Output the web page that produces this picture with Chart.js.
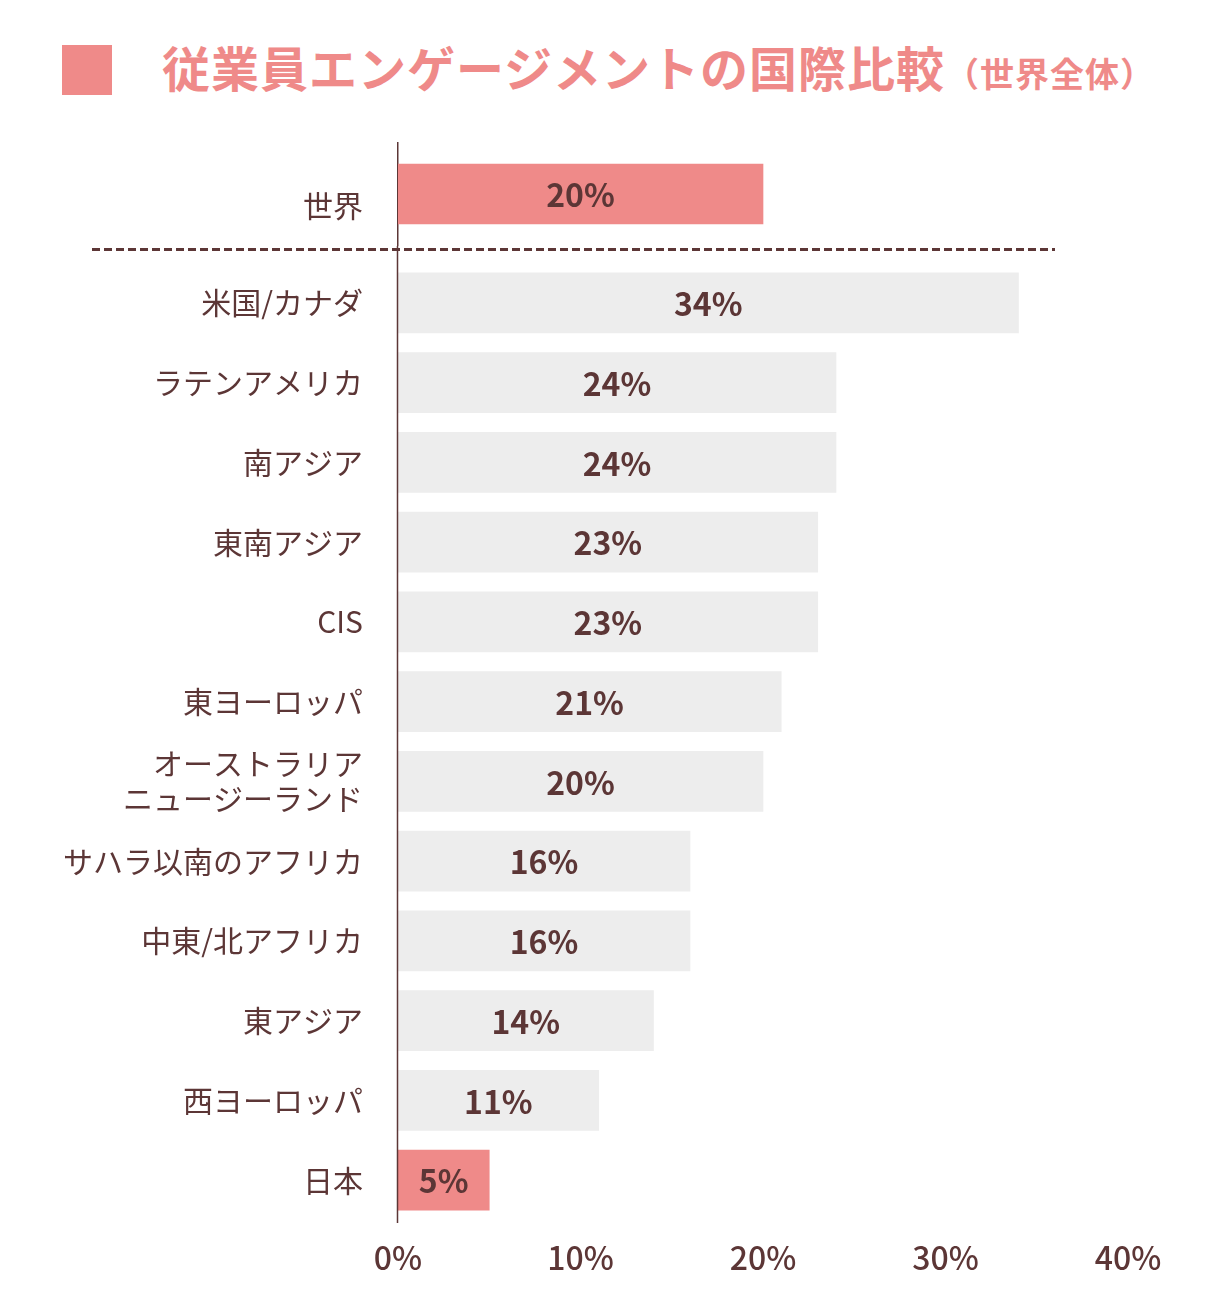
<!DOCTYPE html>
<html lang="ja">
<head>
<meta charset="utf-8">
<title>従業員エンゲージメントの国際比較</title>
<script src="https://cdn.jsdelivr.net/npm/chart.js@4.4.1/dist/chart.umd.min.js"></script>
<style>
    html, body {
        margin: 0;
        padding: 0;
        background: #ffffff;
    }
    #pagina {
        position: relative;
        width: 1220px;
        height: 1316px;
        overflow: hidden;
        font-family: "Noto Sans CJK JP", "Noto Sans", sans-serif;
    }
    #marca {
        position: absolute;
        left: 62px;
        top: 45px;
        width: 50px;
        height: 50px;
        background: #ef8a89;
    }
    #titulo {
        position: absolute;
        left: 162px;
        top: 42px;
        display: flex;
        align-items: baseline;
        color: #ef8a89;
        font-weight: bold;
        white-space: nowrap;
    }
    #titulo .principal {
        font-size: 48px;
        line-height: 48px;
        letter-spacing: 1px;
    }
    #titulo .sub {
        font-size: 34px;
        line-height: 48px;
        letter-spacing: 1px;
    }
    #cajaMundo {
        position: absolute;
        left: 0;
        top: 142px;
    }
    #cajaRegiones {
        position: absolute;
        left: 0;
        top: 246px;
    }
</style>
</head>
<body>
<div id="pagina">
    <div id="marca"></div>
    <div id="titulo"><span class="principal">従業員エンゲージメントの国際比較</span><span class="sub">（世界全体）</span></div>
    <div id="cajaMundo"><canvas id="graficaMundo" width="1220" height="104"></canvas></div>
    <div id="cajaRegiones"><canvas id="graficaRegiones" width="1220" height="1070"></canvas></div>
</div>
<script>
/* -----------------------------
   DATOS
----------------------------- */
const worldLabels = [["", "世界"]];
const worldValues = [20];

const regionLabels = [
    "米国/カナダ",
    "ラテンアメリカ",
    "南アジア",
    "東南アジア",
    "CIS",
    "東ヨーロッパ",
    ["オーストラリア", "ニュージーランド"],
    "サハラ以南のアフリカ",
    "中東/北アフリカ",
    "東アジア",
    "西ヨーロッパ",
    "日本"
];
const regionValues = [34, 24, 24, 23, 23, 21, 20, 16, 16, 14, 11, 5];
const highlighted = ["日本"];

const xTicks = [0, 10, 20, 30, 40];

/* -----------------------------
   ESTILO
----------------------------- */
const FUENTE = '"Noto Sans CJK JP", "Noto Sans", sans-serif';
const ROSA = "#ef8a89";
const GRIS = "#ededed";
const MARRON = "#5c3636";
const ANCHO_ETIQUETAS = 398;

const etiquetasBarras = {
    id: "etiquetasBarras",
    afterDatasetsDraw(chart) {
        const ctx = chart.ctx;
        const meta = chart.getDatasetMeta(0);
        const datos = chart.data.datasets[0].data;
        ctx.save();
        ctx.fillStyle = MARRON;
        ctx.font = `bold 32px ${FUENTE}`;
        ctx.textAlign = "center";
        ctx.textBaseline = "middle";
        meta.data.forEach((bar, i) => {
            const cx = (bar.x + bar.base) / 2;
            ctx.fillText(datos[i] + "%", cx, bar.y + 1);
        });
        ctx.restore();
    }
};

// linea del eje y separador punteado (solo en la grafica de regiones)
const ejeYSeparador = {
    id: "ejeYSeparador",
    afterDraw(chart) {
        const ctx = chart.ctx;
        const area = chart.chartArea;
        ctx.save();
        ctx.strokeStyle = MARRON;
        ctx.lineWidth = 1.5;
        ctx.beginPath();
        ctx.moveTo(area.left - 0.5, 0);
        ctx.lineTo(area.left - 0.5, area.bottom + 3);
        ctx.stroke();

        ctx.lineWidth = 3;
        ctx.setLineDash([8, 4]);
        ctx.beginPath();
        ctx.moveTo(92, 3.5);
        ctx.lineTo(1055, 3.5);
        ctx.stroke();
        ctx.restore();
    }
};

function ejeX(mostrar) {
    const eje = {
        type: "linear",
        display: mostrar,
        min: xTicks[0],
        max: xTicks[xTicks.length - 1],
        afterBuildTicks: (scale) => {
            scale.ticks = xTicks.map(v => ({ value: v }));
        },
        grid: { display: false, drawTicks: false },
        border: { display: false },
        ticks: {
            color: MARRON,
            padding: 19,
            font: { family: FUENTE, size: 32, weight: "500" },
            callback: (v) => v + "%"
        }
    };
    if (mostrar) {
        eje.afterFit = (scale) => {
            scale.height = 96;
            scale.paddingLeft = 0;
            scale.paddingRight = 0;
        };
    }
    return eje;
}

function ejeY(bordeVisible, alturaLinea) {
    return {
        type: "category",
        afterFit: (scale) => {
            scale.width = ANCHO_ETIQUETAS;
            scale.paddingTop = 0;
            scale.paddingBottom = 0;
        },
        grid: { display: false, drawTicks: false },
        border: { display: bordeVisible, color: MARRON, width: 1.5 },
        ticks: {
            color: MARRON,
            padding: 35,
            autoSkip: false,
            font: { family: FUENTE, size: 30, lineHeight: alturaLinea }
        }
    };
}

/* -----------------------------
   GRAFICA: MUNDO
----------------------------- */
new Chart(document.getElementById("graficaMundo"), {
    type: "bar",
    data: {
        labels: worldLabels,
        datasets: [{
            data: worldValues,
            backgroundColor: ROSA,
            borderWidth: 0,
            barThickness: 60
        }]
    },
    options: {
        indexAxis: "y",
        responsive: false,
        animation: false,
        layout: { padding: { left: 0, right: 92, top: 0, bottom: 0 } },
        scales: {
            x: ejeX(false),
            y: ejeY(true, 0.8)
        },
        plugins: {
            legend: { display: false },
            tooltip: { enabled: false }
        }
    },
    plugins: [etiquetasBarras]
});

/* -----------------------------
   GRAFICA: REGIONES
----------------------------- */
new Chart(document.getElementById("graficaRegiones"), {
    type: "bar",
    data: {
        labels: regionLabels,
        datasets: [{
            data: regionValues,
            backgroundColor: regionLabels.map(l => highlighted.includes(l) ? ROSA : GRIS),
            borderWidth: 0,
            barThickness: 60
        }]
    },
    options: {
        indexAxis: "y",
        responsive: false,
        animation: false,
        layout: { padding: { left: 0, right: 92, top: 17, bottom: 0 } },
        scales: {
            x: ejeX(true),
            y: ejeY(false, 1.17)
        },
        plugins: {
            legend: { display: false },
            tooltip: { enabled: false }
        }
    },
    plugins: [etiquetasBarras, ejeYSeparador]
});
</script>
</body>
</html>
